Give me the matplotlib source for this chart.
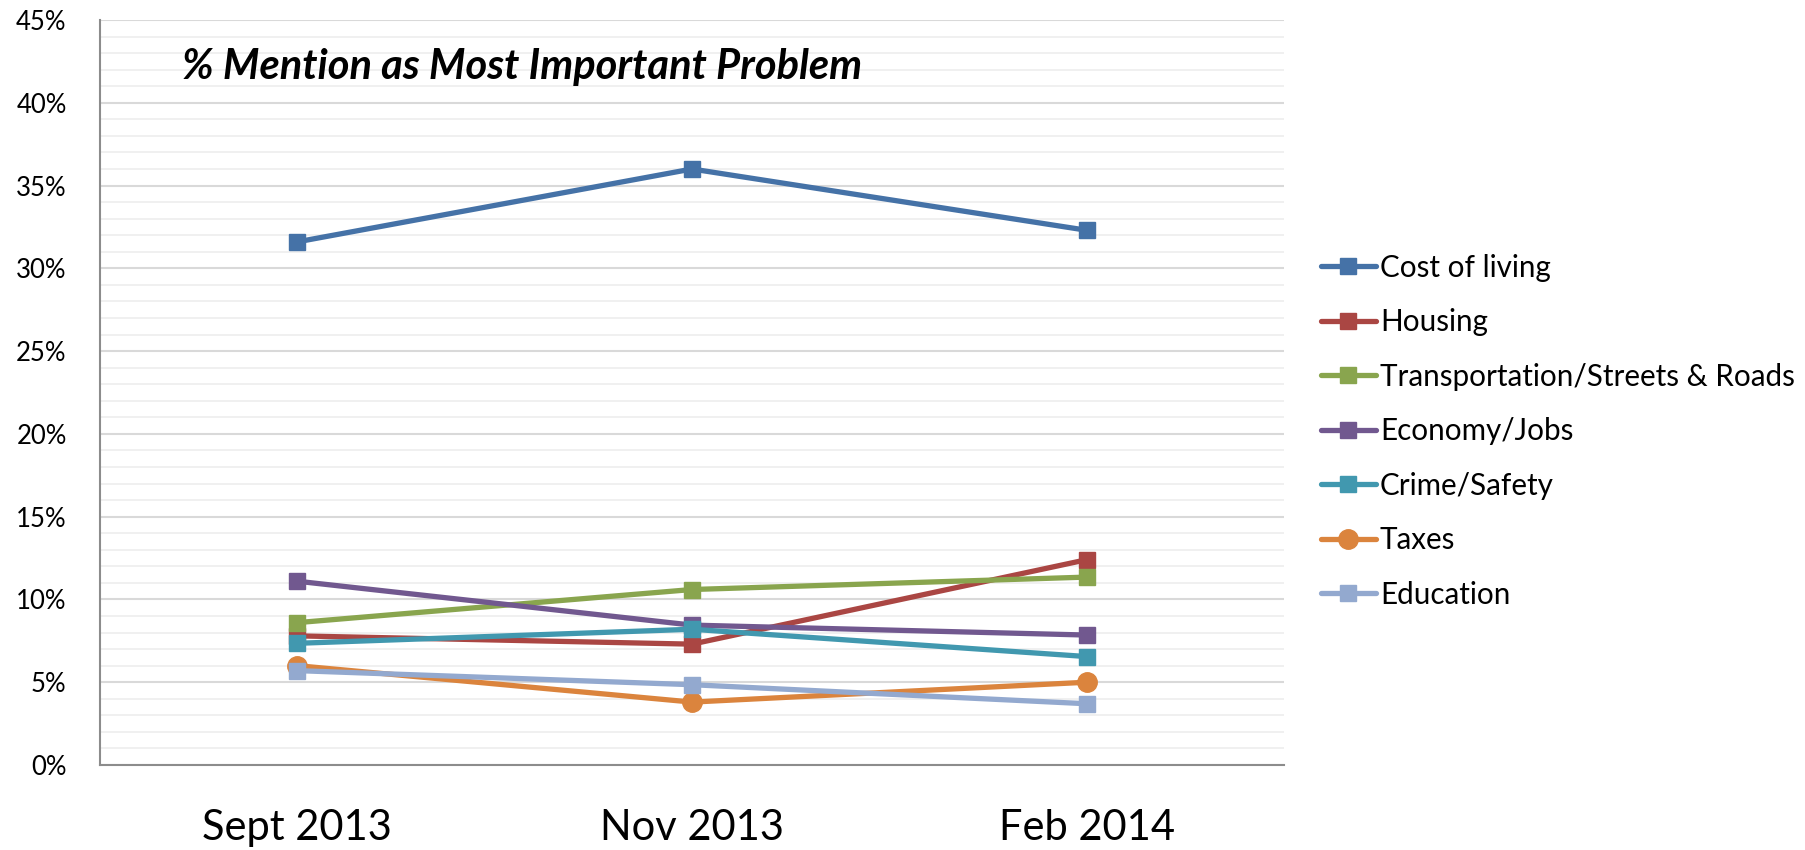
import matplotlib
matplotlib.use("Agg")
import matplotlib.pyplot as plt
from matplotlib.ticker import MultipleLocator, FuncFormatter

plt.rcParams['font.family'] = ['Lato', 'DejaVu Sans']

periods = ["Sept 2013", "Nov 2013", "Feb 2014"]
cost_of_living = [31.6, 36.0, 32.3]
housing = [7.8, 7.3, 12.4]
transportation = [8.6, 10.6, 11.35]
economy = [11.1, 8.45, 7.85]
crime = [7.35, 8.2, 6.55]
taxes = [6.0, 3.8, 5.0]
education = [5.7, 4.85, 3.7]

series = [
    ("Cost of living", cost_of_living, "#4572A7", "s"),
    ("Housing", housing, "#AA4643", "s"),
    ("Transportation/Streets & Roads", transportation, "#89A54E", "s"),
    ("Economy/Jobs", economy, "#71588F", "s"),
    ("Crime/Safety", crime, "#4198AF", "s"),
    ("Taxes", taxes, "#DB843D", "o"),
    ("Education", education, "#93A9CF", "s"),
]

fig = plt.figure(figsize=(18.06, 8.5), dpi=100)
ax = fig.add_axes([100/1806, 1-765/850, (1284-100)/1806, (765-20)/850])

x = list(range(len(periods)))
handles = []
for name, vals, col, mk in series:
    ms = 14 if mk == "o" else 11
    h, = ax.plot(x, vals, color=col, lw=3.8, marker=mk, markersize=ms,
                 label=name, solid_joinstyle='round', solid_capstyle='round')
    handles.append(h)

ax.set_xlim(-0.5, 2.5)
ax.set_ylim(0, 45)
ax.yaxis.set_major_locator(MultipleLocator(5))
ax.yaxis.set_minor_locator(MultipleLocator(1))
ax.yaxis.set_major_formatter(FuncFormatter(lambda v, p: f"{int(round(v))}%"))
ax.grid(which='minor', axis='y', color='#eeeeee', lw=1.2, zorder=0)
ax.grid(which='major', axis='y', color='#d9d9d9', lw=1.5, zorder=0)
ax.set_axisbelow(True)
ax.set_xticks(x)
ax.set_xticklabels(periods, fontsize=30)
ax.tick_params(axis='x', length=0, pad=32)
ax.tick_params(axis='y', which='both', length=0, labelsize=18.5, pad=24)
for s in ['top', 'right']:
    ax.spines[s].set_visible(False)
ax.spines['left'].set_color('#8c8c8c')
ax.spines['bottom'].set_color('#8c8c8c')
ax.spines['left'].set_linewidth(1.5)
ax.spines['bottom'].set_linewidth(1.5)

ax.text(182/1806, 1-67/850, "% Mention as Most Important Problem", transform=fig.transFigure,
        fontsize=30, fontweight='bold', fontstyle='italic', va='center', ha='left')

fig.legend(handles=handles, loc='upper left', bbox_to_anchor=(1309/1806, 1-242/850),
           frameon=False, fontsize=21.3, handlelength=1.85, handletextpad=0.15,
           labelspacing=0.895, borderaxespad=0)

fig.savefig("out.png", dpi=100)
